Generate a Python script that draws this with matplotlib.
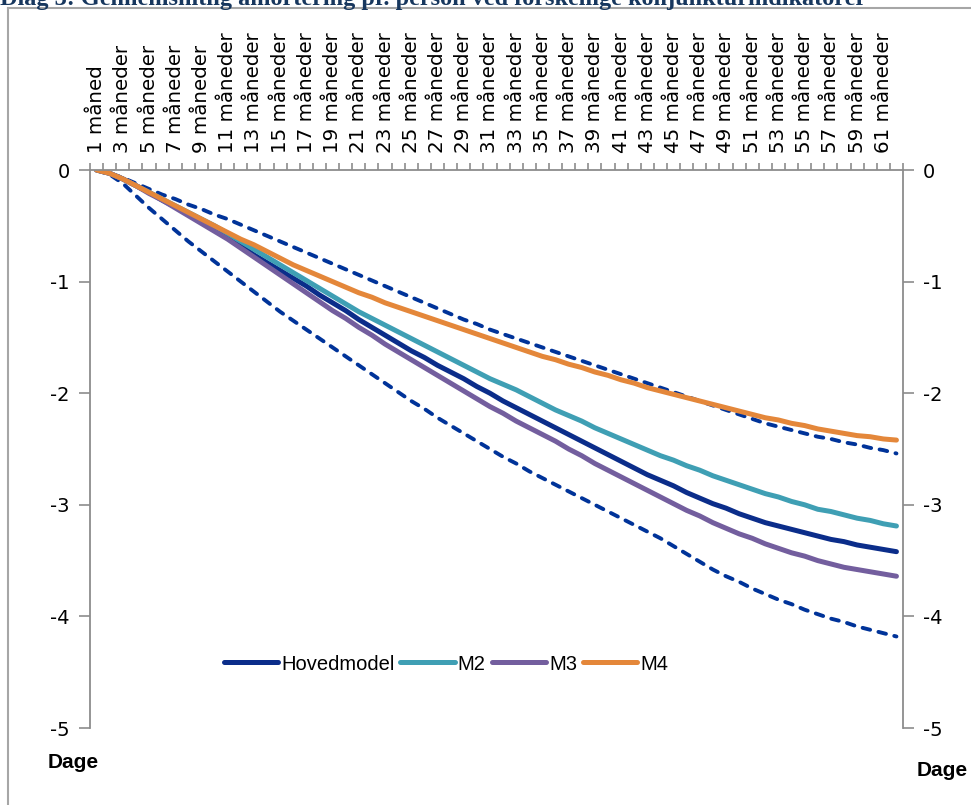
import matplotlib
matplotlib.use('Agg')
import matplotlib.pyplot as plt
from matplotlib.lines import Line2D

plt.rcParams['axes.unicode_minus'] = False

# kategorier: 62 måneder, label på hver anden
months = list(range(1, 63))
label_months = list(range(1, 62, 2))
tick_labels = ['1 måned'] + [str(m) + ' måneder' for m in label_months[1:]]

hovedmodel = [0.00, -0.03, -0.08, -0.14, -0.20, -0.27, -0.33, -0.40, -0.47, -0.54,
              -0.61, -0.68, -0.76, -0.83, -0.90, -0.97, -1.04, -1.12, -1.19, -1.26,
              -1.34, -1.41, -1.48, -1.55, -1.62, -1.68, -1.75, -1.81, -1.87, -1.94,
              -2.00, -2.07, -2.13, -2.19, -2.25, -2.31, -2.37, -2.43, -2.49, -2.55,
              -2.61, -2.67, -2.73, -2.78, -2.83, -2.89, -2.94, -2.99, -3.03, -3.08,
              -3.12, -3.16, -3.19, -3.22, -3.25, -3.28, -3.31, -3.33, -3.36, -3.38,
              -3.40, -3.42]
m2 = [0.00, -0.03, -0.08, -0.14, -0.20, -0.26, -0.32, -0.38, -0.44, -0.50,
      -0.57, -0.64, -0.71, -0.78, -0.85, -0.92, -0.99, -1.06, -1.13, -1.20,
      -1.27, -1.33, -1.39, -1.45, -1.51, -1.57, -1.63, -1.69, -1.75, -1.81,
      -1.87, -1.92, -1.97, -2.03, -2.09, -2.15, -2.20, -2.25, -2.31, -2.36,
      -2.41, -2.46, -2.51, -2.56, -2.60, -2.65, -2.69, -2.74, -2.78, -2.82,
      -2.86, -2.90, -2.93, -2.97, -3.00, -3.04, -3.06, -3.09, -3.12, -3.14,
      -3.17, -3.19]
m3 = [0.00, -0.03, -0.08, -0.14, -0.21, -0.27, -0.34, -0.41, -0.48, -0.55,
      -0.62, -0.70, -0.78, -0.86, -0.94, -1.02, -1.10, -1.18, -1.26, -1.33,
      -1.41, -1.48, -1.56, -1.63, -1.70, -1.77, -1.84, -1.91, -1.98, -2.05,
      -2.12, -2.18, -2.25, -2.31, -2.37, -2.43, -2.50, -2.56, -2.63, -2.69,
      -2.75, -2.81, -2.87, -2.93, -2.99, -3.05, -3.10, -3.16, -3.21, -3.26,
      -3.30, -3.35, -3.39, -3.43, -3.46, -3.50, -3.53, -3.56, -3.58, -3.60,
      -3.62, -3.64]
m4 = [0.00, -0.03, -0.08, -0.14, -0.20, -0.26, -0.32, -0.38, -0.44, -0.50,
      -0.56, -0.62, -0.67, -0.73, -0.79, -0.85, -0.90, -0.95, -1.00, -1.05,
      -1.10, -1.14, -1.19, -1.23, -1.27, -1.31, -1.35, -1.39, -1.43, -1.47,
      -1.51, -1.55, -1.59, -1.63, -1.67, -1.70, -1.74, -1.77, -1.81, -1.84,
      -1.88, -1.91, -1.95, -1.98, -2.01, -2.04, -2.07, -2.10, -2.13, -2.16,
      -2.19, -2.22, -2.24, -2.27, -2.29, -2.32, -2.34, -2.36, -2.38, -2.39,
      -2.41, -2.42]
# usikkerhedsbånd (stiplet)
upper_band = [0.00, -0.03, -0.07, -0.12, -0.17, -0.22, -0.26, -0.31, -0.35, -0.40,
              -0.44, -0.49, -0.54, -0.59, -0.64, -0.69, -0.74, -0.79, -0.84, -0.89,
              -0.94, -0.99, -1.04, -1.09, -1.14, -1.19, -1.24, -1.29, -1.34, -1.38,
              -1.43, -1.47, -1.51, -1.55, -1.59, -1.63, -1.67, -1.71, -1.75, -1.79,
              -1.83, -1.87, -1.91, -1.95, -1.99, -2.03, -2.07, -2.11, -2.15, -2.19,
              -2.23, -2.27, -2.30, -2.33, -2.36, -2.39, -2.41, -2.44, -2.46, -2.49,
              -2.51, -2.54]
lower_band = [0.00, -0.04, -0.12, -0.23, -0.34, -0.44, -0.54, -0.64, -0.73, -0.82,
              -0.91, -1.00, -1.09, -1.18, -1.27, -1.35, -1.43, -1.51, -1.59, -1.67,
              -1.75, -1.83, -1.91, -1.99, -2.07, -2.14, -2.22, -2.29, -2.36, -2.43,
              -2.50, -2.57, -2.63, -2.70, -2.76, -2.82, -2.88, -2.94, -3.00, -3.06,
              -3.12, -3.18, -3.24, -3.30, -3.37, -3.44, -3.51, -3.58, -3.64, -3.69,
              -3.75, -3.80, -3.85, -3.89, -3.94, -3.98, -4.02, -4.05, -4.09, -4.12,
              -4.15, -4.18]

navy = '#0B2D8A'
dash_blue = '#003399'
teal = '#3F9FB4'
purple = '#735E9E'
orange = '#E4873A'
grey = '#8C8C8C'
narrow = ['Liberation Sans Narrow', 'Liberation Sans']

fig = plt.figure(figsize=(9.71, 8.05), dpi=100)
ax = fig.add_axes([90 / 971, 1 - 728 / 805, 813 / 971, 558 / 805])

# stiplede bånd
ax.plot(months, upper_band, color=dash_blue, lw=2.8, dashes=(2.0, 2.2),
        dash_capstyle='round', solid_joinstyle='round')
ax.plot(months, lower_band, color=dash_blue, lw=2.8, dashes=(2.0, 2.2),
        dash_capstyle='round', solid_joinstyle='round')

# modeller
for vals, col, name in [(hovedmodel, navy, 'Hovedmodel'), (m2, teal, 'M2'),
                        (m3, purple, 'M3'), (m4, orange, 'M4')]:
    ax.plot(months, vals, color=col, lw=3.6, solid_capstyle='round',
            solid_joinstyle='round', label=name)

ax.set_xlim(0.5, 62.5)
ax.set_ylim(-5, 0)

# x-akse i toppen
ax.xaxis.tick_top()
ax.set_xticks(label_months)
ax.set_xticklabels(tick_labels, rotation=90, fontsize=14.3, family='DejaVu Sans')
ax.set_xticks([m + 0.5 for m in range(0, 63)], minor=True)
ax.tick_params(axis='x', which='major', length=0, pad=12.5)
ax.tick_params(axis='x', which='minor', length=5, width=1.2, color=grey, top=True, bottom=False)

# y-akse begge sider
ax.set_yticks([0, -1, -2, -3, -4, -5])
ax.set_yticklabels(['0', '-1', '-2', '-3', '-4', '-5'], fontsize=14, family='DejaVu Sans')
ax.tick_params(axis='y', left=True, right=True, labelleft=True, labelright=True,
               length=8, width=1.2, color=grey, pad=6.5)

for side in ['top', 'left', 'right']:
    ax.spines[side].set_color(grey)
    ax.spines[side].set_linewidth(1.3)
ax.spines['bottom'].set_visible(False)

# legende
leg = fig.legend(loc='center', bbox_to_anchor=(446 / 971, 1 - 664 / 805), ncol=4,
                 frameon=False, handlelength=2.7, handletextpad=0.15, columnspacing=0.3,
                 prop={'family': narrow, 'size': 14.5})

# akse-titler
fig.text(73 / 971, 1 - 762 / 805, 'Dage', ha='center', va='center', fontsize=15,
         fontweight='bold', family=narrow)
fig.text(942 / 971, 1 - 770 / 805, 'Dage', ha='center', va='center', fontsize=15,
         fontweight='bold', family=narrow)

# titel (delvist afskåret i toppen)
fig.text(0.0, 1 - 5 / 805, 'Diag 3: Gennemsnitlig amortering pr. person ved forskellige konjunkturindikatorer',
         ha='left', va='baseline', fontsize=17.5, fontweight='bold', color='#17375E',
         family='Liberation Serif')

# ramme
fig.add_artist(Line2D([8 / 971, 1.0], [1 - 8 / 805, 1 - 8 / 805], color='#A6A6A6', lw=1.5))
fig.add_artist(Line2D([8 / 971, 8 / 971], [0.0, 1 - 8 / 805], color='#A6A6A6', lw=1.5))

fig.savefig('out.png', dpi=100)
